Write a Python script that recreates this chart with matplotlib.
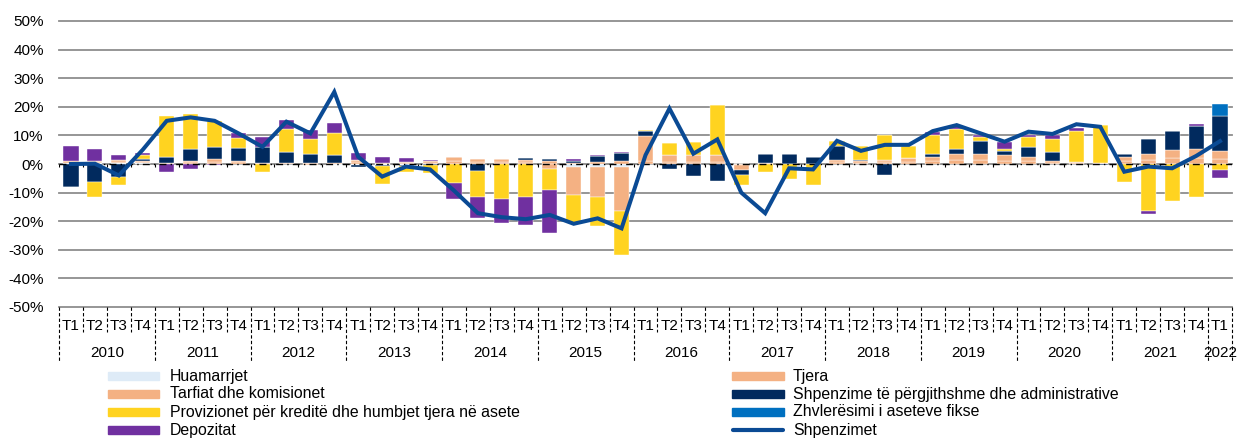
import matplotlib
matplotlib.use("Agg")
import matplotlib.pyplot as plt
import numpy as np
from matplotlib.patches import Rectangle
from matplotlib.lines import Line2D
import matplotlib.transforms as mtransforms

plt.rcParams["font.family"] = ["Liberation Sans", "DejaVu Sans"]

# ── Data (contributions, %) ─────────────────────────────────
years = ["2010", "2011", "2012", "2013", "2014", "2015", "2016",
         "2017", "2018", "2019", "2020", "2021", "2022"]
quarters = ["T1", "T2", "T3", "T4"] * 12 + ["T1"]

huamarrjet = [0.2, 0.2, 0.3, 0.3, 0.1, 0.1, 0.1, 0.1, 0.0, 0.1, 0.1, -0.3,
              -0.3, -0.4, -0.4, 0.0, -0.1, 0.0, 0.0, 0.0, 0.0, -1.2, -1.0, -1.0,
              0.0, 0.0, 0.0, 0.0, 0.0, 0.0, 0.0, 0.0, 0.0, 0.0, 0.0, 0.0,
              0.0, 0.0, 0.0, 0.0, 0.0, 0.0, 0.0, 0.0, 0.0, 0.0, 0.0, 0.0, 0.0]
tarfiat = [0.3, 0.4, 0.5, 0.3, 0.2, 0.5, 0.7, 0.5, 0.1, 0.2, 0.1, 0.1,
           0.6, 0.2, 0.3, 0.4, 1.0, 0.8, 0.8, 0.6, 0.9, 0.3, 0.6, 0.9,
           1.0, 0.8, 0.8, 0.8, -0.3, 0.3, 0.0, 0.0, 0.6, 0.4, 0.6, 0.8,
           1.0, 1.4, 1.4, 1.2, 1.0, 0.5, 0.3, 0.2, 1.0, 1.5, 2.0, 2.2, 1.9]
tjera = [0.4, 0.4, 0.5, 0.3, 0.2, 0.5, 0.8, 0.6, 0.1, 0.1, -0.3, 0.1,
         0.8, 0.3, 0.5, 0.6, 1.3, 1.1, 1.0, 0.9, -1.9, -9.8, -10.6, -15.4,
         8.7, 2.2, 2.2, 2.2, -1.7, 0.0, 0.0, 0.0, 0.8, 0.5, 0.8, 1.2,
         1.5, 2.1, 2.1, 1.8, 1.5, 0.7, 0.3, 0.3, 1.3, 2.0, 2.8, 3.0, 2.6]
shpenzime_adm = [-7.9, -6.3, -4.4, 0.7, 1.8, 4.1, 4.3, 4.5, 5.8, 3.8, 3.2, 2.9,
                 -0.6, -0.3, -0.2, -0.4, 0.0, -2.5, 0.0, 0.5, 0.8, 0.6, 2.1, 2.9,
                 1.7, -1.9, -4.1, -5.8, -1.9, 3.2, 3.5, 2.6, 5.0, 0.5, -4.0, 0.0,
                 1.0, 1.7, 4.6, 1.6, 3.3, 3.1, 0.0, -0.3, 1.2, 5.1, 6.7, 8.1, 12.3]
zhvleresimi = [0.0] * 48 + [4.1]
provizionet = [-0.3, -5.3, -2.9, 1.4, 14.5, 12.2, 9.2, 3.5, -2.8, 8.0, 5.2, 7.9,
               0.0, -6.4, -2.3, -2.9, -6.7, -9.2, -12.4, -11.7, -7.2, -9.5, -10.1, -15.5,
               0.4, 4.4, 4.8, 17.6, -3.5, -2.9, -5.2, -7.3, 1.6, 4.9, 8.7, 4.4,
               6.6, 7.2, 1.4, 0.6, 3.7, 4.3, 11.0, 13.0, -6.2, -16.3, -13.0, -11.4, -2.1]
depozitat = [5.4, 4.1, 1.7, 0.9, -2.9, -1.7, -0.3, 1.5, 3.5, 3.1, 3.2, 3.3,
             2.3, 1.9, 1.2, 0.3, -5.5, -7.3, -8.3, -9.8, -15.1, 0.8, 0.4, 0.4,
             0.0, 0.0, 0.0, 0.0, 0.0, 0.0, 0.0, 0.0, 0.0, 0.0, 0.0, 0.0,
             1.0, 0.8, 0.6, 2.6, 0.6, 1.5, 1.0, 0.0, 0.0, -1.1, 0.0, 0.6, -2.7]
shpenzimet = [0.0, 0.1, -4.0, 5.0, 15.1, 16.3, 15.1, 10.7, 6.0, 14.8, 10.7, 25.2,
              2.5, -4.4, -0.9, -1.9, -9.3, -17.2, -18.6, -19.3, -17.8, -20.9, -19.0, -22.5,
              3.1, 19.4, 3.6, 8.6, -10.0, -17.2, -1.5, -1.9, 8.1, 4.6, 6.7, 6.7,
              11.5, 13.6, 10.7, 7.8, 11.3, 10.5, 13.9, 13.0, -2.7, -0.9, -1.5, 2.8, 8.0]

series = [
    ("Huamarrjet", huamarrjet, "#DEEBF7"),
    ("Tarfiat dhe komisionet", tarfiat, "#F4B183"),
    ("Tjera", tjera, "#F4B183"),
    ("Shpenzime të përgjithshme dhe administrative", shpenzime_adm, "#012A5E"),
    ("Zhvlerësimi i aseteve fikse", zhvleresimi, "#0070C0"),
    ("Provizionet për kreditë dhe humbjet tjera në asete", provizionet, "#FFD320"),
    ("Depozitat", depozitat, "#7030A0"),
]
line_color = "#0A4A94"

W, H = 1238, 441
fig = plt.figure(figsize=(W / 100, H / 100), dpi=100)
ax = fig.add_axes([59 / W, 1 - 307 / H, (1232 - 59) / W, (307 - 21) / H])

n = len(quarters)
x = np.arange(n)

# gridlines
for v in range(-50, 51, 10):
    ax.axhline(v, color="#8E8E8E", lw=1.3, zorder=0, clip_on=False)

# stacked bars, positive and negative stacked separately
pos = np.zeros(n)
neg = np.zeros(n)
for name, vals, color in series:
    vals = np.array(vals)
    bottom = np.where(vals >= 0, pos, neg)
    ax.bar(x, vals, 0.63, bottom=bottom, color=color, edgecolor="white",
           linewidth=0.3, zorder=2)
    pos += np.where(vals >= 0, vals, 0)
    neg += np.where(vals < 0, vals, 0)

# zero line (dash-dot with small ticks)
ax.axhline(0, color="black", lw=1.0, ls=(0, (5, 3, 1, 3)), zorder=3)
ax.vlines(np.arange(n + 1) - 0.5, -0.9, 0, color="black", lw=0.8, zorder=3)

ax.plot(x, shpenzimet, color=line_color, lw=2.9, zorder=5,
        solid_joinstyle="miter")

ax.set_xlim(-0.5, n - 0.5)
ax.set_ylim(-50, 50)
for s in ax.spines.values():
    s.set_visible(False)
ax.set_xticks([])
ax.set_yticks(range(-50, 51, 10))
ax.set_yticklabels([f"{v}%" for v in range(-50, 51, 10)], fontsize=11)
ax.tick_params(axis="y", length=0, pad=11)

# category axis: quarters, years, dashed separators
trans = mtransforms.blended_transform_factory(ax.transData, ax.transAxes)
for i, q in enumerate(quarters):
    ax.text(i, -0.066, q, transform=trans, ha="center", va="center",
            fontsize=11, family=["Liberation Sans Narrow", "Liberation Sans"],
            clip_on=False)
for b in range(n + 1):
    bottom_y = -0.19 if b % 4 == 0 or b == n else -0.088
    ax.add_line(Line2D([b - 0.5, b - 0.5], [0, bottom_y], transform=trans,
                       color="black", lw=0.8, ls=(0, (3, 2)), clip_on=False))
for k, yr in enumerate(years):
    start = k * 4
    end = min(start + 4, n)
    ax.text((start + end - 1) / 2, -0.161, yr, transform=trans, ha="center",
            va="center", fontsize=11, clip_on=False)

# legend, two columns placed by hand
def fx(px):
    return px / W


def fy(py):
    return 1 - py / H


rows = [376, 394, 412, 430]
left_items = [series[0], series[1], series[5], series[6]]
right_items = [series[2], series[3], series[4]]
for (name, _, color), ry in zip(left_items, rows):
    fig.add_artist(Rectangle((fx(108), fy(ry + 4)), fx(51), 8 / H,
                             color=color, transform=fig.transFigure))
    fig.text(fx(170), fy(ry), name, fontsize=11.4, va="center", ha="left")
for (name, _, color), ry in zip(right_items, rows):
    fig.add_artist(Rectangle((fx(732), fy(ry + 4)), fx(52), 8 / H,
                             color=color, transform=fig.transFigure))
    fig.text(fx(793), fy(ry), name, fontsize=11.4, va="center", ha="left")
fig.add_artist(Line2D([fx(733), fx(783)], [fy(rows[3]), fy(rows[3])],
                      color=line_color, lw=3, solid_capstyle="round",
                      transform=fig.transFigure))
fig.text(fx(793), fy(rows[3]), "Shpenzimet", fontsize=11.4, va="center",
         ha="left")

fig.savefig("out.png", dpi=100, facecolor="white")
